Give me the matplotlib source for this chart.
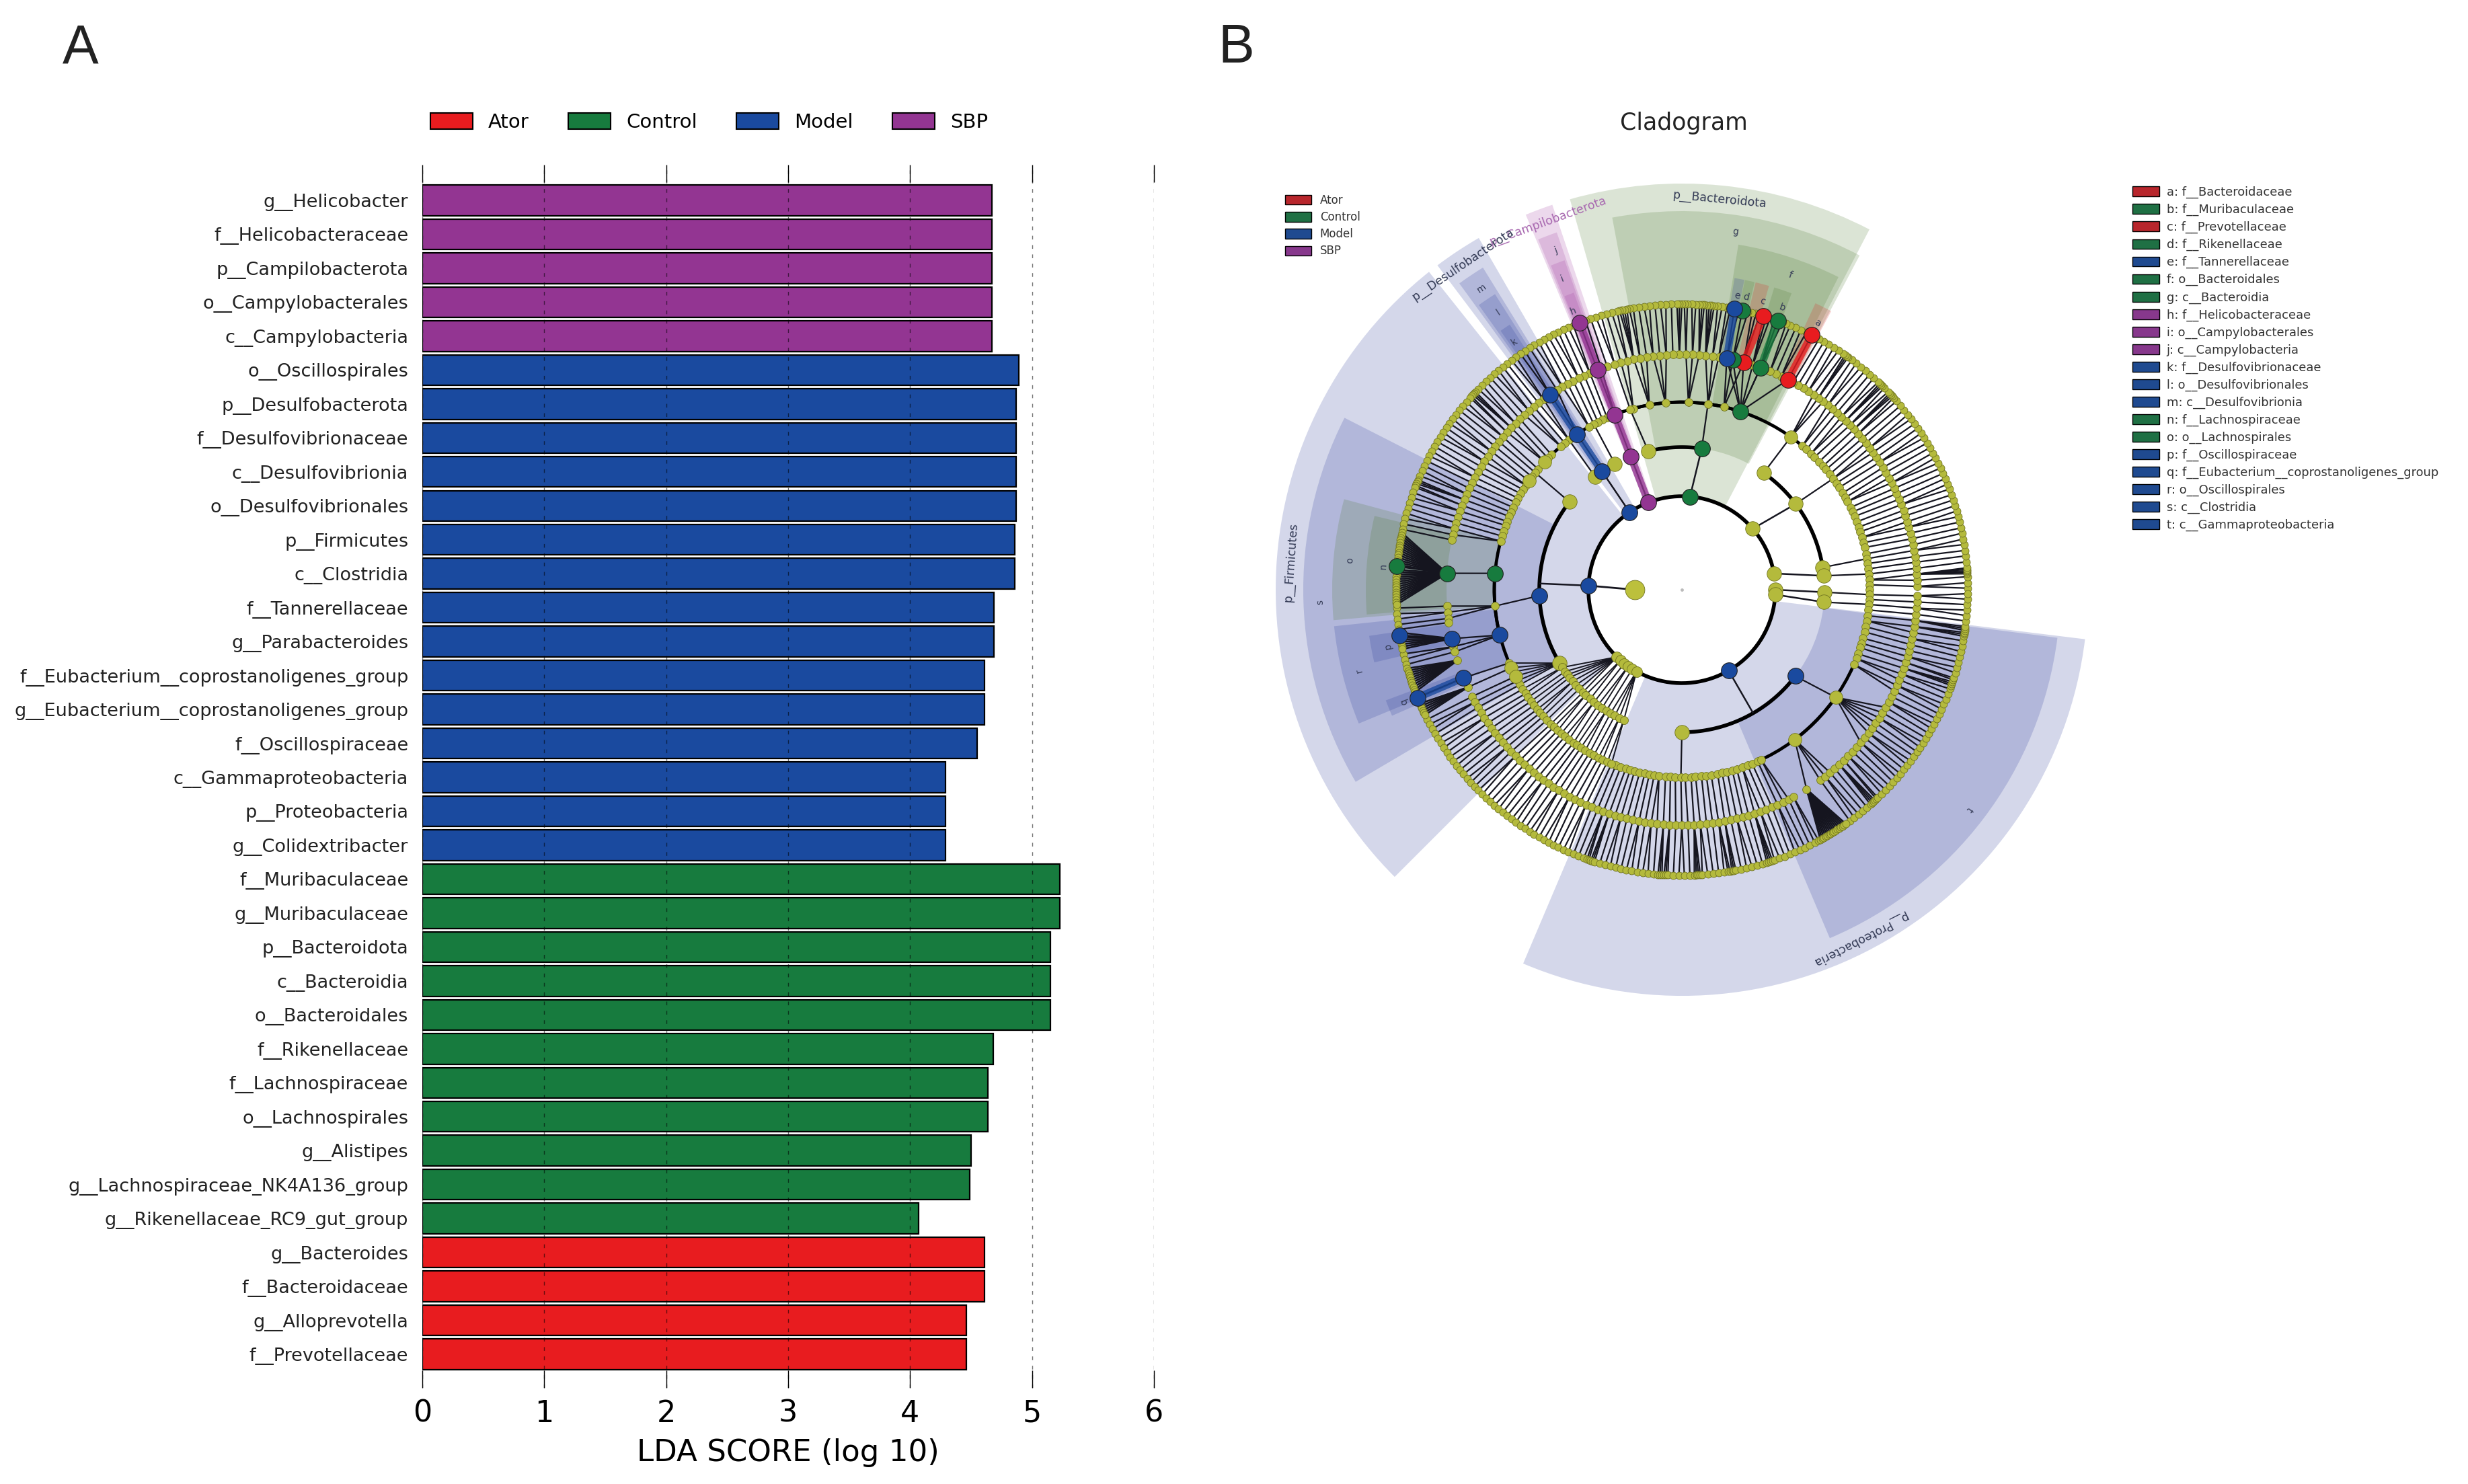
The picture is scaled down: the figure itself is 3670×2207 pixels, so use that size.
import matplotlib
matplotlib.use("Agg")
import matplotlib.pyplot as plt
from matplotlib.patches import Patch
import numpy as np

# ---------- panel A data ----------
labels = ["g__Helicobacter", "f__Helicobacteraceae", "p__Campilobacterota", "o__Campylobacterales",
          "c__Campylobacteria", "o__Oscillospirales", "p__Desulfobacterota", "f__Desulfovibrionaceae",
          "c__Desulfovibrionia", "o__Desulfovibrionales", "p__Firmicutes", "c__Clostridia",
          "f__Tannerellaceae", "g__Parabacteroides", "f__Eubacterium__coprostanoligenes_group",
          "g__Eubacterium__coprostanoligenes_group", "f__Oscillospiraceae", "c__Gammaproteobacteria",
          "p__Proteobacteria", "g__Colidextribacter", "f__Muribaculaceae", "g__Muribaculaceae",
          "p__Bacteroidota", "c__Bacteroidia", "o__Bacteroidales", "f__Rikenellaceae",
          "f__Lachnospiraceae", "o__Lachnospirales", "g__Alistipes", "g__Lachnospiraceae_NK4A136_group",
          "g__Rikenellaceae_RC9_gut_group", "g__Bacteroides", "f__Bacteroidaceae", "g__Alloprevotella",
          "f__Prevotellaceae"]
scores = [4.67, 4.67, 4.67, 4.67, 4.67, 4.89, 4.87, 4.87, 4.87, 4.87, 4.86, 4.86, 4.69, 4.69, 4.61,
          4.61, 4.55, 4.29, 4.29, 4.29, 5.23, 5.23, 5.15, 5.15, 5.15, 4.68, 4.64, 4.64, 4.50, 4.49,
          4.07, 4.61, 4.61, 4.46, 4.46]
groups = ["SBP"] * 5 + ["Model"] * 15 + ["Control"] * 11 + ["Ator"] * 4
group_names = ["Ator", "Control", "Model", "SBP"]
colors = {"Ator": "#e81c1f", "Control": "#177b3e", "Model": "#1a4a9f", "SBP": "#933592"}
dull = {"Ator": "#b8262c", "Control": "#1f7044", "Model": "#1f4a90", "SBP": "#87388c"}

# ---------- panel B data: angles in degrees, one list per tree level ----------
root_angle = 180
phyla = [(85, [82, 103.6]), (111, [111]), (124, [118, 124, 127.5]), (177.5, [142, 182.4, 211]), (300, [270, 322.7]),
         (40.7, [55, 37, 9]), (10, [5.6]), (0, [359]), (357, [355])]
small_phyla = [226, 229, 232, 235, 238, 241]
classes = [(55, [54.5]),
           (37, [50, 48.4, 46.5, 45, 43, 41.2, 39.8, 38, 36.3, 34.6, 33, 31, 29.4, 28, 26, 24.5, 23]),
           (9, [21.2, 19.5, 18, 16.2, 14.5, 13, 11, 9.5]), (5.6, [8, 6.4, 4.8, 3, 1.5]), (359, [0, 358.5, 357]),
           (355, [355.5, 353.8, 352, 350.4, 348.6, 347, 345, 343.4, 342, 340, 338.5, 336.5]),
           (82, [71.8, 77, 82, 88, 95, 100, 105]), (103.6, [106]), (111, [111]), (124, [124]),
           (118, [113.5, 115, 116.6, 118, 119.7]), (127.5, [127, 128.6, 130.2]),
           (142, [134, 135.5, 137, 140, 141.4, 143, 144.6, 146.2, 147.8, 149.2, 150.8, 152.3, 154, 155.6, 157, 158.7,
                  160, 161.8, 163.4, 165]),
           (182.4, [175, 185, 194]),
           (270, [249.4, 251, 252.6, 254, 255.4, 257, 258.6, 260, 261.5, 263, 265, 266.5, 268, 269.7, 271, 272.8,
                  274.2, 276, 277.5, 279, 281, 282.4, 284, 285.6, 287, 288.8, 290.5, 292, 293.8, 295]),
           (322.7, [307, 325])]
small_classes = [213, 215, 216.6, 218, 220, 222, 224, 226, 227.6, 230, 232, 234, 236, 238, 240, 242, 244, 246]
small_orders = [203, 204.6, 206, 207.5, 209, 210.4, 212, 213.6, 215, 216.5, 218, 219.6, 221, 222.4, 224, 225.7, 227,
                228.6, 230, 231.5, 233, 234.7, 236, 237.4, 239, 240.5, 242, 243.6, 245, 246.6, 248]
big_orders = [54.5, 137, 144.6, 307, 325, 204.6, 207.5]
# ring 4, families with a near radial stem
families = [0.8, 2.3, 3.8, 5.2, 6.7, 8.1, 9.6, 11, 12.5, 13.9, 15.4, 16.8, 18.3, 19.7, 21.2, 22.6, 24.1, 25.5, 27, 28.4,
            29.9, 31.3, 32.8, 34.2, 35.7, 37.1, 38.6, 40, 41.5, 43, 44.4, 45.9, 47.3, 48.8, 50.2, 51.7, 53.1, 54.6, 56,
            57.5, 58.9, 60.4, 61.8, 63.2, 65, 66.5, 68, 70.5, 72.5, 74.8, 77.5, 79, 81, 82.5, 84.2, 85.8, 87.4, 89,
            90.6, 92.2, 93.8, 95.4, 97, 98.6, 100.2, 101.8, 103.4, 105, 106.6, 108.5, 110, 111, 113, 114.5, 116, 117.5,
            119, 120.5, 122, 124, 126, 127.5, 129, 130.5, 132, 133.5, 135, 136.5, 138, 139.5, 141, 142.5, 144, 145.5,
            147, 148.5, 150, 151.5, 153, 154.5, 156, 157.5, 159, 160.5, 162, 163.5, 165, 166.5, 167.8, 184, 185.5, 187,
            188, 194, 195.3, 207, 208.5, 210, 211.5, 213, 214.5, 216, 217.5, 219, 220.5, 222, 223.5, 225, 226.5, 228,
            229.5, 231, 232.5, 234, 235.5, 237, 238.5, 240, 241.5, 243, 244.5, 246, 247.5, 249, 250.5, 252, 253.5, 255,
            256.5, 258, 259.5, 261, 262.5, 264, 265.5, 267, 268.5, 270, 271.5, 273, 274.5, 276, 277.5, 279, 280.5, 282,
            283.5, 285, 286.5, 288, 289.5, 291, 292.5, 294, 295.5, 297, 298.3, 306, 307.5, 309, 310.5, 312, 313.5, 315,
            316.5, 318, 319.5, 321, 322.5, 324, 325.5, 327, 328.5, 330, 331.5, 333, 334.5, 336, 337.5, 339, 340.5, 342,
            343.5, 345, 346.5, 348, 349.5, 351, 352.5, 354, 355.5, 357, 358.5]
# ring 5, genera hanging on the nearest family
genera = [0.3, 1.4, 2.6, 3.2, 3.5, 3.8, 4.1, 4.4, 5.6, 6.8, 7.9, 9.1, 10.2, 11.4, 12.5, 13.7, 14.8, 16, 17.1, 18.3, 19.4,
          20.6, 21.7, 22.9, 24, 25.2, 26.3, 27.5, 28.6, 29.8, 30.9, 32.1, 33.2, 34.4, 35.5, 36.7, 37.8, 39, 40.1, 41.3,
          42.2, 42.6, 43, 43.4, 43.8, 44.9, 45.4, 45.8, 46.2, 46.6, 47.8, 48.9, 50.1, 51.2, 52.4, 53.5, 54.4, 54.8, 55.2,
          55.6, 56.8, 57.9, 59.1, 60.2, 61.3, 63, 64.2, 65.4, 66.5, 67.7, 68.6, 69.4, 70.4, 71.2, 72, 72.8, 73.4, 74.2,
          75, 75.8, 76.6, 77.8, 78.5, 79.4, 80.2, 81, 81.9, 82.8, 83.5, 84, 84.5, 85, 85.5, 86, 86.5, 87.2, 88, 88.9, 89.5,
          90, 90.5, 91, 92.1, 93.2, 94.3, 95.4, 96.5, 97.6, 98.7, 99.8, 100.6, 101.1, 101.6, 102.1, 102.6, 103.1, 104.2,
          105.3, 106.4, 107.5, 108.6, 109.7, 111, 112.3, 113.4, 114.5, 115.6, 116.7, 117.8, 118.9, 120, 121.1, 122.2,
          123.3, 124.4, 125.5, 126.6, 127.7, 128.8, 129.9, 131, 132.1, 133.2, 134.3, 135.4, 136.2, 136.6, 137, 137.4,
          137.8, 138.9, 140, 141.1, 142.2, 143.3, 144.4, 145.5, 146.6, 147.7, 148.8, 149.9, 151, 152.1, 153.2, 154.3,
          155.4, 156.5, 157.4, 157.8, 158.2, 158.6, 159, 160.1, 161.2, 162.3, 163.4, 164.5, 165.6, 166.7, 167.8, 183.7,
          184.8, 185.9, 187, 188, 193, 194.1, 195.2, 207, 208.1, 209.2, 210.3, 211.4, 212.5, 213.6, 214.7, 215.8, 216.9,
          218, 219.1, 220.2, 221.3, 222.4, 223.5, 224.6, 225.7, 226.8, 227.9, 229, 230.1, 231.2, 232.3, 233.4, 234.5,
          235.6, 236.7, 237.8, 238.9, 240, 241.1, 242.2, 243.3, 244.4, 245.5, 246.6, 247.7, 248.8, 249.9, 250.6, 251,
          251.4, 251.8, 252.2, 253.3, 254.4, 255.5, 256.6, 257.7, 258.8, 259.9, 261, 262.1, 263.2, 264.3, 265.2, 265.6,
          266, 266.4, 266.8, 267.2, 268.3, 269.4, 270.5, 271.6, 272.5, 272.9, 273.3, 273.7, 274.1, 275.2, 276.3, 277.4,
          278.5, 279.3, 279.7, 280.1, 280.5, 280.9, 282, 283.1, 284.2, 285.3, 286.4, 287.3, 287.7, 288.1, 288.5, 288.9,
          290, 291.1, 292.2, 293.3, 294.4, 295.5, 296.6, 297.7, 298.6, 306, 307.1, 308.2, 309.3, 310.4, 311.3, 311.7,
          312.1, 312.5, 312.9, 313.3, 314.4, 315.5, 316.6, 317.7, 318.8, 319.9, 321, 322.1, 323.2, 324.3, 325.4, 326.5,
          327.6, 328.7, 329.8, 330.9, 332, 333.1, 334.2, 335.3, 336.4, 337.5, 338.6, 339.7, 340.4, 340.8, 341.2, 341.6,
          342, 343.1, 344.2, 345.3, 346.4, 347.5, 348.6, 349.7, 350.6, 351, 351.4, 351.8, 352.2, 352.6, 353.7, 354.8,
          355.9, 357, 358.1, 359.2]
# families whose genera fan out into the black triangles
fans = [(176, [168.5, 169, 169.5, 170, 170.5, 171, 171.5, 172, 172.5, 173, 173.5, 174, 174.5, 175, 175.3, 176, 176.5,
               177, 177.5, 178, 178.5, 179, 179.5, 180, 180.5, 181, 181.5, 182, 182.5, 183]),
        (192, [188.6, 189.2, 189.5, 190, 190.5, 191, 191.5, 192]),
        (197.5, [196, 196.5, 197, 197.5, 198, 198.5, 199, 199.5, 200, 200.5, 201]), (202, [202.2]),
        (204.5, [203.5, 204, 204.5, 205, 205.5, 206]),
        (302, [299, 299.4, 299.8, 300.2, 300.6, 301, 301.4, 301.8, 302.2, 302.6, 303, 303.4, 303.8, 304.2, 304.6, 305])]
# order to family stems that reach further than the usual near radial ones
long_stems = [(71.8, [63.2, 70.5, 74.8, 77.5, 79]), (307, [302]), (325, [319.5, 322.5, 328.5, 330])]

# highlighted nodes per level (angle, group)
highlights = {
    1: [(85, "Control"), (111, "SBP"), (124, "Model"), (177.5, "Model"), (300, "Model")],
    2: [(82, "Control"), (111, "SBP"), (124, "Model"), (182.4, "Model"), (322.7, "Model")],
    3: [(71.8, "Control"), (111, "SBP"), (124, "Model"), (175, "Control"), (194, "Model")],
    4: [(63.2, "Ator"), (70.5, "Control"), (74.8, "Ator"), (77.5, "Control"), (79, "Model"), (111, "SBP"),
        (124, "Model"), (176, "Control"), (192, "Model"), (202, "Model")],
    5: [(63, "Ator"), (70.4, "Control"), (73.4, "Ator"), (77.8, "Control"), (79.4, "Model"), (111, "SBP"),
        (175.3, "Control"), (189.2, "Model"), (202.2, "Model")],
}
# thick coloured branches: angle at inner end, angle at outer end, inner level, outer level, group
thick_links = [(111, 111, 1, 5, "SBP"), (124, 124, 2, 4, "Model"), (63.2, 63, 4, 5, "Ator"),
               (74.8, 73.4, 4, 5, "Ator"), (79, 79.4, 4, 5, "Model"), (202, 202.2, 4, 5, "Model"),
               (70.5, 70.4, 4, 5, "Control")]

# shaded clades: name, start angle, end angle, tree level, wedge colour
clade_names = ["p__Bacteroidota", "p__Campilobacterota", "p__Desulfobacterota", "p__Firmicutes", "p__Proteobacteria",
               "g", "j", "m", "s", "t", "f", "i", "l", "o", "r",
               "a", "b", "c", "d", "e", "h", "k", "n", "p", "q"]
clade_start = [62.5, 108.6, 120, 128.5, 247, 62, 109.3, 121.7, 153, 293, 63.4, 109.6, 122.3, 165, 186,
               61.8, 69.7, 74, 76.7, 78.6, 110, 123, 166.5, 188.4, 200.5]
clade_end = [106, 112.6, 127, 225, 353, 100.6, 112.3, 126, 210.5, 352.7, 80.7, 112, 125.5, 185, 202.5,
             65, 73, 76.5, 78.5, 80.4, 111.8, 125, 184.5, 193.3, 203.5]
clade_level = [1, 1, 1, 1, 1, 2, 2, 2, 2, 2, 3, 3, 3, 3, 3, 4, 4, 4, 4, 4, 4, 4, 4, 4, 4]
clade_group = ["Control", "SBP", "Model", "Model", "Model", "Control", "SBP", "Model", "Model", "Model",
               "Control", "SBP", "Model", "Control", "Model", "Ator", "Control", "Ator", "Control", "Model",
               "SBP", "Model", "Control", "Model", "Model"]
# angle of the clade label
clade_label_angle = [84.5, 110, 124, 176, 297, 81.5, 110.4, 123.6, 182, 322.6, 71, 111, 123.5, 175, 194,
                     63, 70.4, 74.3, 77.6, 79.3, 111.3, 124, 175.5, 190.9, 202]

legend_codes = ["a: f__Bacteroidaceae", "b: f__Muribaculaceae", "c: f__Prevotellaceae", "d: f__Rikenellaceae",
                "e: f__Tannerellaceae", "f: o__Bacteroidales", "g: c__Bacteroidia", "h: f__Helicobacteraceae",
                "i: o__Campylobacterales", "j: c__Campylobacteria", "k: f__Desulfovibrionaceae",
                "l: o__Desulfovibrionales", "m: c__Desulfovibrionia", "n: f__Lachnospiraceae", "o: o__Lachnospirales",
                "p: f__Oscillospiraceae", "q: f__Eubacterium__coprostanoligenes_group", "r: o__Oscillospirales",
                "s: c__Clostridia", "t: c__Gammaproteobacteria"]
legend_code_groups = ["Ator", "Control", "Ator", "Control", "Model", "Control", "Control", "SBP", "SBP", "SBP",
                      "Model", "Model", "Model", "Control", "Control", "Model", "Model", "Model", "Model", "Model"]

plt.rcParams["font.family"] = "DejaVu Sans"
W, H = 3670, 2207
fig = plt.figure(figsize=(W / 100, H / 100), dpi=100)

# ---------- A: LDA bars ----------
ax = fig.add_axes([628 / W, 1 - 2064 / H, (1716 - 628) / W, (2064 - 245) / H])
y = np.arange(len(labels))[::-1]
ax.barh(y, scores, height=0.9, color=[colors[g] for g in groups], edgecolor="black", linewidth=1.6)
ax.set_xlim(0, 6)
ax.set_ylim(-0.99, 35.05)
ax.set_yticks(y)
ax.set_yticklabels(labels, fontsize=19.5, color="#222222")
ax.set_xticks(range(7))
ax.tick_params(axis="y", length=0, pad=15)
ax.tick_params(axis="x", top=True, direction="in", length=19, width=1, labelsize=32, pad=12)
ax.grid(axis="x", color="black", linestyle=(0, (4, 6)), linewidth=1, alpha=0.55)
ax.set_axisbelow(False)
for s in ax.spines.values():
    s.set_visible(False)
ax.set_xlabel("LDA SCORE (log 10)", fontsize=32.5, labelpad=11)

handles = [Patch(facecolor=colors[g], edgecolor="black", linewidth=1.5, label=g) for g in group_names]
fig.legend(handles=handles, loc="center left", bbox_to_anchor=(640 / W, 1 - 182 / H), ncol=4, frameon=False,
           fontsize=21, handlelength=2.15, handleheight=0.85, handletextpad=0.8, columnspacing=2.0,
           borderpad=0, borderaxespad=0)

# ---------- B: cladogram ----------
cx, cy, rmax = 2501, 877, 700
pax = fig.add_axes([(cx - rmax) / W, 1 - (cy + rmax) / H, 2 * rmax / W, 2 * rmax / H], projection="polar")
pax.set_ylim(0, rmax)
pax.set_axis_off()
pax.patch.set_alpha(0)

ring = {0: 70, 1: 139, 2: 212, 3: 279, 4: 350, 5: 425}
tip = {1: 604, 2: 563, 3: 520, 4: 470}
wedge_colors = {"Ator": "#e02020", "Control": "#4e7a30", "Model": "#2a3a9a", "SBP": "#a040a0"}
node_yellow = "#b4ba3c"
node_edge = "#6f7320"

for name, a0, a1, lev, g, la in zip(clade_names, clade_start, clade_end, clade_level, clade_group, clade_label_angle):
    pax.bar(np.radians(a0), tip[lev] - ring[lev], width=np.radians(a1 - a0), bottom=ring[lev], align="edge",
            color=wedge_colors[g], alpha=0.2, linewidth=0, zorder=1)
    if lev == 1:
        rad, fs = 583, 12.5
    else:
        rad, fs = tip[lev] - 25, 10
    txt_col = "#a868b0" if name == "p__Campilobacterota" else "#333a55"
    pax.text(np.radians(la), rad, name, rotation=la - 90, rotation_mode="anchor", ha="center", va="center",
             fontsize=fs, color=txt_col, zorder=9)


def branch(a0, r0, a1, r1, lw=1.6):
    pax.plot(np.radians([a0, a1]), [r0, r1], color="#15151f", linewidth=lw, solid_capstyle="butt", zorder=3)


def arc(angles, r, lw):
    if len(angles) < 2:
        return
    t = np.radians(np.linspace(min(angles), max(angles), 120))
    pax.plot(t, np.full(t.shape, r), color="black", linewidth=lw, zorder=3)


def nearest(angle, options):
    return min(options, key=lambda v: abs(v - angle))


def stem(parent, kids, r0, r1, lw):
    # straight to a child close by, otherwise radial onto the children's arc
    kid = nearest(parent, kids)
    if abs(kid - parent) < 4 or not min(kids) <= parent <= max(kids):
        branch(parent, r0, kid, r1, lw)
    else:
        branch(parent, r0, parent, r1, lw)


# root, phyla and classes
phylum_angles = [p for p, _ in phyla]
branch(root_angle, ring[0], 177.5, ring[1], 2)
arc([10, 357], ring[1], 4)
for p, kids in phyla:
    arc(kids, ring[2], 4)
    stem(p, kids, ring[1], ring[2], 1.8)
for c in small_classes:
    branch(nearest(c, small_phyla), ring[1], c, ring[2], 1.4)

class_angles = [c for _, kids in phyla for c in kids]
order_angles = []
for c, kids in classes:
    arc(kids, ring[3], 3.4)
    stem(c, kids, ring[2], ring[3], 1.6)
    order_angles.extend(kids)
for o in small_orders:
    branch(nearest(o, small_classes + [211]), ring[2], o, ring[3], 1.4)
order_angles = order_angles + small_orders

fan_parents = [f for f, _ in fans]
family_angles = families + fan_parents
for f in family_angles:
    o = nearest(f, order_angles)
    if abs(o - f) < 2.5:
        branch(o, ring[3], f, ring[4], 1.6)
for o, kids in long_stems:
    for f in kids:
        branch(o, ring[3], f, ring[4], 1.6)

genus_angles = list(genera)
for g in genera:
    branch(nearest(g, families), ring[4], g, ring[5], 1.6)
for f, kids in fans:
    for g in kids:
        branch(f, ring[4], g, ring[5], 1.9)
    genus_angles.extend(kids)

for a0, a1, l0, l1, g in thick_links:
    pax.plot(np.radians([a0, a1]), [ring[l0], ring[l1]], color=colors[g], linewidth=8, alpha=0.8,
             solid_capstyle="butt", zorder=4)

# yellow nodes: small along the crowded rings, larger on the first levels
for angles, lev, size in [(phylum_angles, 1, 240), (small_phyla, 1, 130), (class_angles, 2, 240),
                          (small_classes, 2, 75), (order_angles, 3, 72), (big_orders, 3, 200),
                          (family_angles, 4, 72), (genus_angles, 5, 62)]:
    pax.scatter(np.radians(angles), np.full(len(angles), ring[lev]), s=size, color=node_yellow,
                edgecolors=node_edge, linewidths=0.6, zorder=5)
pax.scatter(np.radians([root_angle]), [ring[0]], s=430, color="#bcc03c", edgecolors=node_edge, linewidths=0.6,
            zorder=5)
pax.scatter([0], [0], s=6, color="#bbbbbb", zorder=5)
for lev, nodes in highlights.items():
    for a, g in nodes:
        pax.scatter(np.radians([a]), [ring[lev]], s=290, color=colors[g], edgecolors="#222222", linewidths=0.8,
                    zorder=6)

fig.text(2504 / W, 1 - 183 / H, "Cladogram", fontsize=25, ha="center", va="center", color="#222222")

handles2 = [Patch(facecolor=dull[g], edgecolor="black", linewidth=1, label=g) for g in group_names]
fig.legend(handles=handles2, loc="upper left", bbox_to_anchor=(1911 / W, 1 - 289 / H), frameon=False, fontsize=12,
           handlelength=2.35, handleheight=0.95, labelspacing=0.43, handletextpad=0.75, borderpad=0, borderaxespad=0,
           labelcolor="#333333")

handles3 = [Patch(facecolor=dull[g], edgecolor="black", linewidth=1, label=t)
            for t, g in zip(legend_codes, legend_code_groups)]
fig.legend(handles=handles3, loc="upper left", bbox_to_anchor=(3171 / W, 1 - 277 / H), frameon=False, fontsize=12.9,
           handlelength=2.23, handleheight=0.9, labelspacing=0.434, handletextpad=0.6, borderpad=0, borderaxespad=0,
           labelcolor="#333333")

# panel letters
fig.text(120 / W, 1 - 93 / H, "A", fontsize=58, family="Liberation Sans", ha="center", va="baseline", color="#222222")
fig.text(1838 / W, 1 - 93 / H, "B", fontsize=58, family="Liberation Sans", ha="center", va="baseline", color="#222222")

fig.savefig("out.png", dpi=100)
